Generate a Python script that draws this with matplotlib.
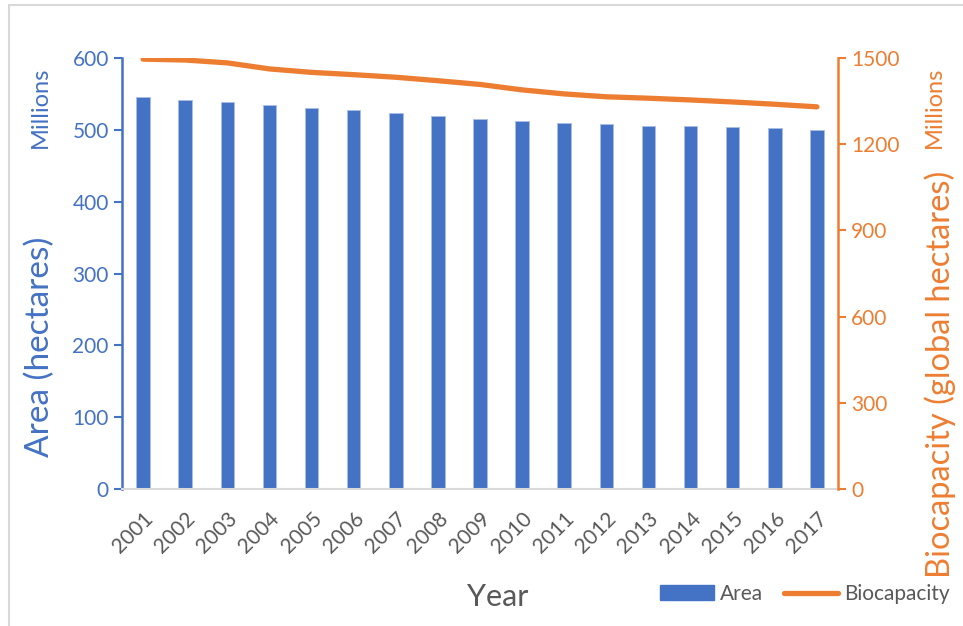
import matplotlib.pyplot as plt
from matplotlib.patches import Rectangle
from matplotlib.lines import Line2D

years = [str(y) for y in range(2001, 2018)]
area = [546, 542, 539, 535, 531, 527, 524, 519, 515, 512, 510, 508, 506, 505, 504, 502, 500]
biocapacity = [1496, 1493, 1483, 1462, 1450, 1442, 1433, 1421, 1408, 1389, 1375, 1365, 1360, 1354, 1347, 1339, 1330]

blue = '#4472C4'
orange = '#ED7D31'
grey = '#595959'

plt.rcParams['font.family'] = ['Lato', 'DejaVu Sans']

fig = plt.figure(figsize=(9.63, 6.26), dpi=100)
ax = fig.add_axes([122 / 963, 1 - 489 / 626, (838 - 122) / 963, (489 - 58) / 626])
ax2 = ax.twinx()

x = list(range(len(years)))
ax.bar(x, area, width=0.32, color=blue, edgecolor='#a9bfe6', linewidth=0.6, zorder=2)
ax2.plot(x, biocapacity, color=orange, linewidth=3.8, solid_capstyle='round', zorder=3)

ax.set_xlim(-0.5, len(years) - 0.5)
ax.set_ylim(0, 600)
ax2.set_ylim(0, 1500)
ax.set_yticks(range(0, 601, 100))
ax2.set_yticks(range(0, 1501, 300))
ax.set_xticks(x)
ax.set_xticklabels(years, rotation=45, ha='right', rotation_mode='anchor',
                   fontsize=15, color=grey)
ax.tick_params(axis='x', length=0, pad=14)
ax.tick_params(axis='y', colors=blue, labelsize=15, length=6, width=1.5, direction='out')
ax2.tick_params(axis='y', colors=orange, labelsize=15, length=6, width=1.5, direction='out')

for a in (ax, ax2):
    for s in a.spines.values():
        s.set_visible(False)
ax.spines['left'].set_visible(True)
ax.spines['left'].set_color(blue)
ax.spines['left'].set_linewidth(1.8)
ax2.spines['right'].set_visible(True)
ax2.spines['right'].set_color(orange)
ax2.spines['right'].set_linewidth(1.8)
ax.spines['bottom'].set_visible(True)
ax.spines['bottom'].set_color('#d9d9d9')
ax.spines['bottom'].set_linewidth(1.5)

fig.text(40 / 963, 1 - 107 / 626, 'Millions', rotation=90, color=blue, fontsize=17,
         ha='center', va='center')
fig.text(40 / 963, 1 - 347 / 626, 'Area (hectares)', rotation=90, color=blue, fontsize=24,
         ha='center', va='center')
fig.text(934 / 963, 1 - 107 / 626, 'Millions', rotation=90, color=orange, fontsize=17,
         ha='center', va='center')
fig.text(940 / 963, 1 - 374 / 626, 'Biocapacity (global hectares)', rotation=90, color=orange,
         fontsize=23.5, ha='center', va='center')
fig.text(498 / 963, 1 - 597 / 626, 'Year', color=grey, fontsize=22, ha='center', va='center')

handles = [Rectangle((0, 0), 1, 1, color=blue),
           Line2D([0], [0], color=orange, linewidth=3.8, solid_capstyle='round')]
fig.legend(handles, ['Area', 'Biocapacity'], loc='center', bbox_to_anchor=(805 / 963, 1 - 594 / 626),
           ncol=2, frameon=False, fontsize=15, labelcolor=grey, handlelength=2.6,
           handletextpad=0.3, columnspacing=1.0)

fig.patches.append(Rectangle((9 / 963, -0.1), 2, 1.1 - 5 / 626, transform=fig.transFigure,
                             fill=False, edgecolor='#d9d9d9', linewidth=1.5))

fig.savefig('out.png', dpi=100)
